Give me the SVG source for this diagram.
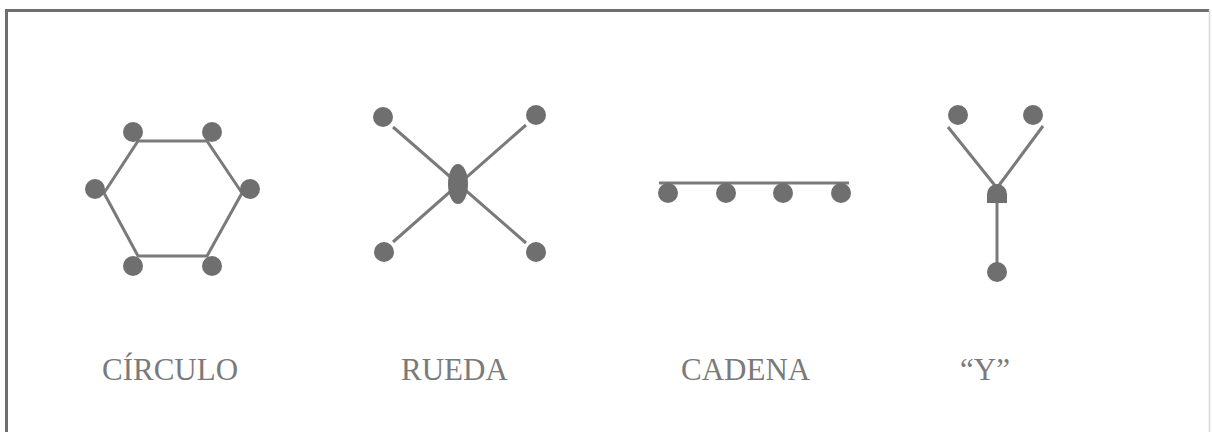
<svg xmlns="http://www.w3.org/2000/svg" width="1212" height="432" viewBox="0 0 1212 432">
  <style>
    .edge { stroke: #7a7a7a; stroke-width: 3; fill: none; }
    .node { fill: #6f6f6f; }
    .label { font-family: "Liberation Serif", "Times New Roman", serif; font-size: 31px; fill: #7a7a7a; }
  </style>
  <rect x="0" y="0" width="1212" height="432" fill="#ffffff"/>
  <g id="frame">
    <line x1="6.5" y1="10" x2="6.5" y2="432" stroke="#6e6e6e" stroke-width="3"/>
    <line x1="5" y1="10.5" x2="1209" y2="10.5" stroke="#6e6e6e" stroke-width="3"/>
    <line x1="1209.5" y1="10" x2="1209.5" y2="432" stroke="#d8d8d8" stroke-width="1.5"/>
  </g>
  <g id="connectors">
    <polygon class="edge" points="138,141 207,141 242,193 207,256 138,256 104,193"/>
    <line class="edge" x1="393" y1="127" x2="526" y2="243"/>
    <line class="edge" x1="526" y1="125" x2="393" y2="242"/>
    <line class="edge" x1="659" y1="183" x2="849" y2="183"/>
    <line class="edge" x1="948" y1="127" x2="997" y2="188"/>
    <line class="edge" x1="1043" y1="126" x2="997" y2="188"/>
    <line class="edge" x1="997" y1="195" x2="997" y2="264"/>
  </g>
  <g id="circulo">
    <circle class="node" cx="133" cy="132" r="10"/>
    <circle class="node" cx="212" cy="132" r="10"/>
    <circle class="node" cx="95" cy="189" r="10"/>
    <circle class="node" cx="250" cy="189" r="10"/>
    <circle class="node" cx="133" cy="266" r="10"/>
    <circle class="node" cx="212" cy="266" r="10"/>
    <text class="label" x="102" y="380">CÍRCULO</text>
  </g>
  <g id="rueda">
    <circle class="node" cx="383" cy="117" r="10"/>
    <circle class="node" cx="536" cy="115" r="10"/>
    <circle class="node" cx="384" cy="252" r="10"/>
    <circle class="node" cx="536" cy="252" r="10"/>
    <ellipse class="node" cx="458" cy="184" rx="10" ry="20"/>
    <text class="label" x="401" y="380">RUEDA</text>
  </g>
  <g id="cadena">
    <circle class="node" cx="668" cy="193" r="10"/>
    <circle class="node" cx="726" cy="193" r="10"/>
    <circle class="node" cx="783" cy="193" r="10"/>
    <circle class="node" cx="841" cy="193" r="10"/>
    <text class="label" x="681" y="380">CADENA</text>
  </g>
  <g id="y">
    <circle class="node" cx="958" cy="115" r="10"/>
    <circle class="node" cx="1033" cy="115" r="10"/>
    <path class="node" d="M987,203 L987,194 A10,10 0 0 1 1007,194 L1007,203 Z"/>
    <circle class="node" cx="997" cy="272" r="10"/>
    <text class="label" x="960" y="380">“Y”</text>
  </g>
</svg>
